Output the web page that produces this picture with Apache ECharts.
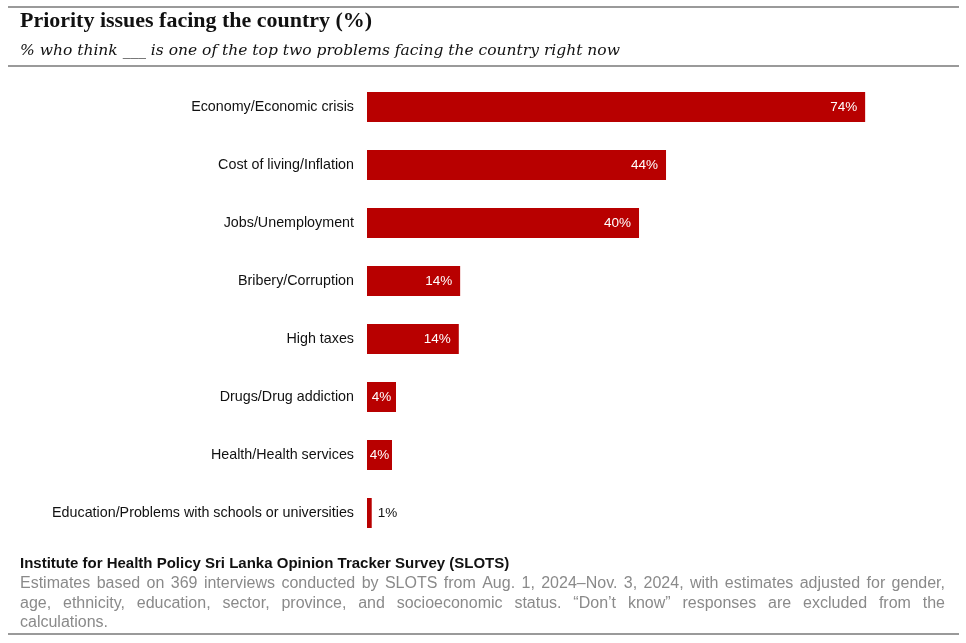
<!DOCTYPE html>
<html>
<head>
<meta charset="utf-8">
<script src="https://cdn.jsdelivr.net/npm/echarts@6/dist/echarts.min.js"></script>
<style>html,body{margin:0;padding:0;background:#fff}#c{width:966px;height:643px}</style>
</head>
<body>
<div id="c"></div>
<script>
const categories = [
  "Economy/Economic crisis",
  "Cost of living/Inflation",
  "Jobs/Unemployment",
  "Bribery/Corruption",
  "High taxes",
  "Drugs/Drug addiction",
  "Health/Health services",
  "Education/Problems with schools or universities"
];
const values = [73.8, 44.3, 40.3, 13.8, 13.6, 4.3, 3.7, 0.7];
const titleText = "Priority issues facing the country (%)";
const subtitleText = "% who think ___ is one of the top two problems facing the country right now";
const sourceText = "Institute for Health Policy Sri Lanka Opinion Tracker Survey (SLOTS)";
const noteLines = [
  "Estimates based on 369 interviews conducted by SLOTS from Aug. 1, 2024\u2013Nov. 3, 2024, with estimates adjusted for gender,",
  "age, ethnicity, education, sector, province, and socioeconomic status. \u201cDon\u2019t know\u201d responses are excluded from the",
  "calculations."
];

const chart = echarts.init(document.getElementById('c'));

const canvas = document.createElement('canvas');
const ctx = canvas.getContext('2d');
function fitSize(text, fontTpl, baseSize, target, maxSize) {
  ctx.font = fontTpl.replace('{s}', baseSize + 'px');
  const w = ctx.measureText(text).width;
  return Math.min(maxSize, baseSize * target / w);
}
const titleTpl = 'bold {s} "Liberation Serif", "DejaVu Serif", serif';
const subTpl = 'italic {s} "DejaVu Serif", "Liberation Serif", serif';
const titleSize = fitSize(titleText, titleTpl, 22, 352, 24);
const subSize = fitSize(subtitleText, subTpl, 16, 600, 17);

const noteFont = '16px "Liberation Sans", Arial, sans-serif';
ctx.font = noteFont;
const noteLeft = 20, noteRight = 945;
const graphics = [];
[7, 66, 634].forEach(y => graphics.push({type:'line', shape:{x1:8,y1:y,x2:959,y2:y}, style:{stroke:'#9a9a9a', lineWidth:2}}));
graphics.push({type:'text', x:20, y:21, style:{text:titleText, font:titleTpl.replace('{s}', titleSize.toFixed(2)+'px'), fill:'#111', textVerticalAlign:'middle'}});
graphics.push({type:'text', x:20, y:51, style:{text:subtitleText, font:subTpl.replace('{s}', subSize.toFixed(2)+'px'), fill:'#111', textVerticalAlign:'middle'}});
graphics.push({type:'text', x:20, y:564, style:{text:sourceText, font:'bold 15px "Liberation Sans", Arial, sans-serif', fill:'#111', textVerticalAlign:'middle'}});
noteLines.forEach((line, i) => {
  const y = 584 + i * 19.5;
  const justify = i < noteLines.length - 1;
  if (!justify) {
    graphics.push({type:'text', x:noteLeft, y:y, style:{text:line, font:noteFont, fill:'#8a8a8a', textVerticalAlign:'middle'}});
    return;
  }
  const words = line.split(' ');
  const widths = words.map(w => ctx.measureText(w).width);
  const total = widths.reduce((a,b)=>a+b,0);
  const gap = (noteRight - noteLeft - total) / (words.length - 1);
  let x = noteLeft;
  words.forEach((w, k) => {
    graphics.push({type:'text', x:x, y:y, style:{text:w, font:noteFont, fill:'#8a8a8a', textVerticalAlign:'middle'}});
    x += widths[k] + gap;
  });
});

const labelFont = '"Liberation Sans", Arial, sans-serif';
chart.setOption({
  animation: false,
  grid: {left: 367, right: 59, top: 78, bottom: 101, containLabel: false},
  xAxis: {type:'value', min:0, max:80, show:false},
  yAxis: {
    type:'category', data: categories, inverse: true,
    axisLine:{show:false}, axisTick:{show:false},
    axisLabel:{color:'#111', fontSize:14.3, fontFamily:labelFont, margin:13}
  },
  series: [{
    type:'bar', data: values.map(v => ({
      value: v,
      label: v < 2 ? {position:'right', color:'#111', distance:6}
           : (v < 6 ? {position:'inside'} : {})
    })),
    barWidth: 30,
    itemStyle:{color:'#B80000'},
    label:{show:true, position:'insideRight', distance:8, color:'#fff', fontSize:13.5, fontFamily:labelFont, formatter: p => Math.round(p.value) + '%'}
  }],
  graphic: graphics
});
</script>
</body>
</html>
